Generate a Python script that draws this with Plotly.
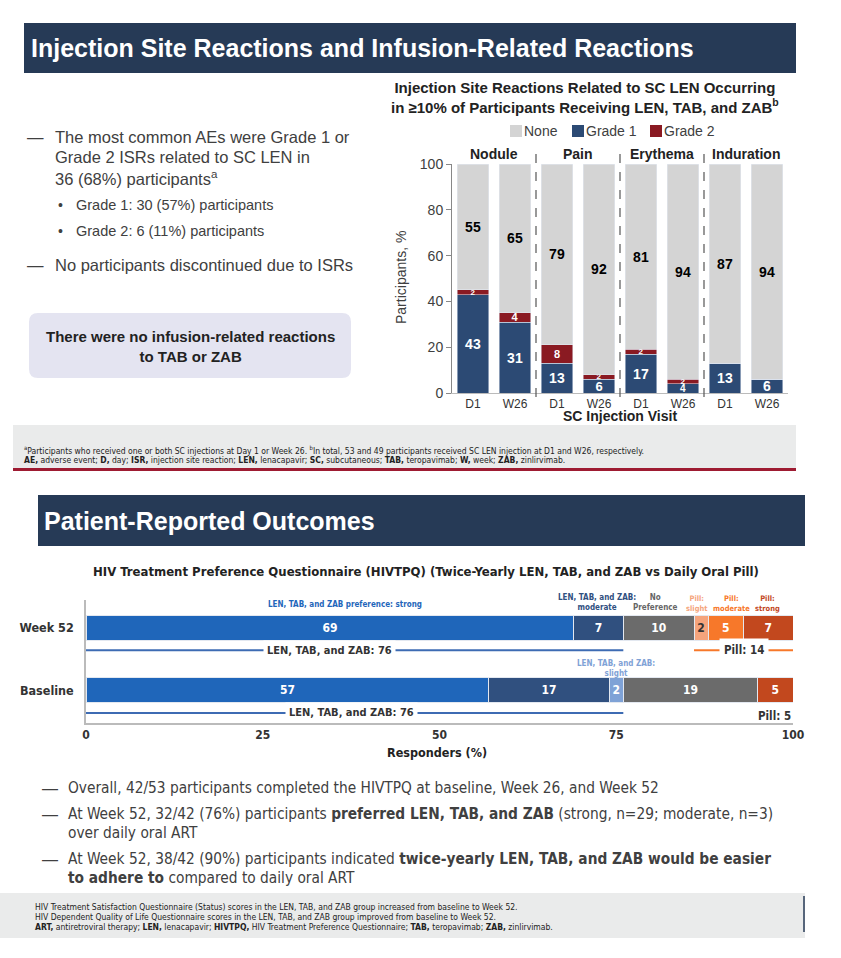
import plotly.graph_objects as go

# ── Datos ──────────────────────────────────────────────────────────────────
# Gráfico superior: ISR por tipo y visita
isr_groups = ["Nodule", "Pain", "Erythema", "Induration"]
isr_visits = ["D1", "W26", "D1", "W26", "D1", "W26", "D1", "W26"]
grade1 = [43, 31, 13, 6, 17, 4, 13, 6]
grade2 = [2, 4, 8, 2, 2, 2, 0, 0]
none_ = [55, 65, 79, 92, 81, 94, 87, 94]
y_ticks_top = [0, 20, 40, 60, 80, 100]

# Gráfico inferior: HIVTPQ (fila 0 = Baseline, fila 1 = Week 52)
pro_rows = ["Baseline", "Week 52"]
len_strong = [57, 69]
len_moderate = [17, 7]
len_slight = [2, None]
no_pref = [19, 10]
pill_slight = [None, 2]
pill_moderate = [None, 5]
pill_strong = [5, 7]
x_ticks_bottom = [0, 25, 50, 75, 100]

# ── Constantes de página ───────────────────────────────────────────────────
W, H = 841, 958
NAVY = "#263A56"
TXT = "#404040"
SANS = "Liberation Sans, Arial, sans-serif"
NARROW = "DejaVu Sans Condensed, Liberation Sans, sans-serif"


def px(x):
    return x / W


def py(y):
    return 1 - y / H


def val(v):
    return v or 0


fig = go.Figure()

# ── Barras apiladas superiores ─────────────────────────────────────────────
xs = list(range(len(isr_visits)))
g1_sizes = [14, 14, 14, 13, 14, 10, 14, 14]
g2_sizes = [8, 11, 11, 8, 8, 8, 8, 8]

fig.add_trace(go.Bar(
    x=xs, y=grade1, marker_color="#2C4A74", name="Grade 1",
    text=[f"<b>{v}</b>" for v in grade1], textposition="inside",
    insidetextanchor="middle", constraintext="none", textangle=0,
    textfont=dict(color="white", size=g1_sizes, family=SANS),
    xaxis="x", yaxis="y", showlegend=False, hoverinfo="skip",
))
fig.add_trace(go.Bar(
    x=xs, y=grade2, marker_color="#8A1A22", name="Grade 2",
    text=[f"<b>{v}</b>" if v else "" for v in grade2], textposition="inside",
    insidetextanchor="middle", constraintext="none", textangle=0,
    textfont=dict(color="white", size=g2_sizes, family=SANS),
    xaxis="x", yaxis="y", showlegend=False, hoverinfo="skip",
))
fig.add_trace(go.Bar(
    x=xs, y=none_, marker_color="#D4D4D4", name="None",
    text=[f"<b>{v}</b>" for v in none_], textposition="inside",
    insidetextanchor="middle", constraintext="none", textangle=0,
    textfont=dict(color="black", size=14, family=SANS),
    xaxis="x", yaxis="y", showlegend=False, hoverinfo="skip",
))

# ── Barras horizontales inferiores ─────────────────────────────────────────
rows_y = list(range(len(pro_rows)))
bottom_series = [
    (len_strong, "#1F66BA", "white"),
    (len_moderate, "#30507F", "white"),
    (len_slight, "#7FA2D6", "white"),
    (no_pref, "#6B6B6B", "white"),
    (pill_slight, "#F5A47C", "#333333"),
    (pill_moderate, "#F7782A", "white"),
    (pill_strong, "#C2481E", "white"),
]
for vals, color, tcolor in bottom_series:
    fig.add_trace(go.Bar(
        y=rows_y, x=[val(v) for v in vals], orientation="h", width=0.4,
        marker=dict(color=color, line=dict(color="#E3E8F0", width=1)),
        text=[f"<b>{v}</b>" if v else "" for v in vals], textposition="inside",
        insidetextanchor="middle", constraintext="none", textangle=0,
        textfont=dict(color=tcolor, size=12, family=NARROW),
        xaxis="x2", yaxis="y2", showlegend=False, hoverinfo="skip",
    ))

len_total = [val(a) + val(b) + val(c) for a, b, c in zip(len_strong, len_moderate, len_slight)]
pill_total = [val(a) + val(b) + val(c) for a, b, c in zip(pill_slight, pill_moderate, pill_strong)]

shapes = []
ann = []


def text(t, x, y, size=14, color=TXT, family=SANS, xanchor="left", yanchor="middle",
         xref="paper", yref="paper", align="left", **kw):
    ann.append(dict(text=t, x=x, y=y, xref=xref, yref=yref, showarrow=False,
                    xanchor=xanchor, yanchor=yanchor, align=align,
                    font=dict(size=size, color=color, family=family), **kw))


def rect(x0, y0, x1, y1, color, **kw):
    shapes.append(dict(type="rect", xref="paper", yref="paper", x0=px(x0), x1=px(x1),
                       y0=py(y1), y1=py(y0), fillcolor=color, line=dict(width=0),
                       layer="below", **kw))


def round_rect(x0, y0, x1, y1, r, color):
    rx, ry = r / W, r / H
    a, b, c, d = px(x0), px(x1), py(y1), py(y0)
    path = (f"M{a + rx},{c} L{b - rx},{c} Q{b},{c} {b},{c + ry} L{b},{d - ry} Q{b},{d} {b - rx},{d} "
            f"L{a + rx},{d} Q{a},{d} {a},{d - ry} L{a},{c + ry} Q{a},{c} {a + rx},{c} Z")
    shapes.append(dict(type="path", xref="paper", yref="paper", path=path,
                       fillcolor=color, line=dict(width=0), layer="below"))


# ── Encabezados y paneles ──────────────────────────────────────────────────
rect(24, 23, 796, 73, NAVY)
text("<b>Injection Site Reactions and Infusion-Related Reactions</b>", px(29), py(48),
     size=25, color="white")
rect(38, 495, 805, 546, NAVY)
text("<b>Patient-Reported Outcomes</b>", px(42), py(521), size=25, color="white")

rect(13, 425, 796, 468, "#EAEBEB")
rect(13, 468, 796, 471, "#9E1B32")
text("<sup>a</sup>Participants who received one or both SC injections at Day 1 or Week 26. "
     "<sup>b</sup>In total, 53 and 49 participants received SC LEN injection at D1 and W26, respectively.",
     px(22), py(450), size=8.5, color="#222", family=NARROW)
text("<b>AE,</b> adverse event; <b>D,</b> day; <b>ISR,</b> injection site reaction; <b>LEN,</b> lenacapavir; "
     "<b>SC,</b> subcutaneous; <b>TAB,</b> teropavimab; <b>W,</b> week; <b>ZAB,</b> zinlirvimab.",
     px(22), py(460), size=8.5, color="#222", family=NARROW)

rect(0, 893, 805, 938, "#EAEBEB")
shapes.append(dict(type="line", xref="paper", yref="paper", x0=px(804), x1=px(804),
                   y0=py(932), y1=py(896), line=dict(color=NAVY, width=1.5)))
text("HIV Treatment Satisfaction Questionnaire (Status) scores in the LEN, TAB, and ZAB group increased from baseline to Week 52.",
     px(33), py(907), size=8.5, color="#222", family=NARROW)
text("HIV Dependent Quality of Life Questionnaire scores in the LEN, TAB, and ZAB group improved from baseline to Week 52.",
     px(33), py(917), size=8.5, color="#222", family=NARROW)
text("<b>ART,</b> antiretroviral therapy; <b>LEN,</b> lenacapavir; <b>HIVTPQ,</b> HIV Treatment Preference Questionnaire; "
     "<b>TAB,</b> teropavimab; <b>ZAB,</b> zinlirvimab.",
     px(33), py(927), size=8.5, color="#222", family=NARROW)

# ── Texto izquierdo superior ───────────────────────────────────────────────
for t, y in [("—", 137), ("—", 265)]:
    text(t, px(25), py(y), size=16.5)
for t, y in [("The most common AEs were Grade 1 or", 137),
             ("Grade 2 ISRs related to SC LEN in", 157),
             ("36 (68%) participants<sup>a</sup>", 178),
             ("No participants discontinued due to ISRs", 265)]:
    text(t, px(53), py(y), size=16.5)
for t, y in [("Grade 1: 30 (57%) participants", 205), ("Grade 2: 6 (11%) participants", 231)]:
    text("•", px(56), py(y), size=14)
    text(t, px(74), py(y), size=14.5)

round_rect(29, 313, 351, 378, 9, "#E4E4F1")
text("<b>There were no infusion-related reactions<br>to TAB or ZAB</b>", px(190), py(346),
     size=15, color="#222", xanchor="center", align="center")

# ── Anotaciones del gráfico superior ───────────────────────────────────────
text("<b>Injection Site Reactions Related to SC LEN Occurring<br>"
     "in ≥10% of Participants Receiving LEN, TAB, and ZAB<sup>b</sup></b>",
     px(585), py(98), size=15, color="#222", xanchor="center", align="center")

for label, sq_x, color in [("None", 510, "#D4D4D4"), ("Grade 1", 572, "#2C4A74"), ("Grade 2", 650, "#8A1A22")]:
    rect(sq_x, 125, sq_x + 12, 137, color)
    text(label, px(sq_x + 12), py(131), size=14)

for i, g in enumerate(isr_groups):
    text(f"<b>{g}</b>", 2 * i + 0.5, py(154), size=14, color="#222",
         xanchor="center", xref="x")
for i in range(1, len(isr_groups)):
    shapes.append(dict(type="line", xref="x", yref="paper", x0=2 * i - 0.5, x1=2 * i - 0.5,
                       y0=py(397), y1=py(146), line=dict(color="#555", width=1.2, dash="dash")))

text("Participants, %", px(401), py(278), size=14, xanchor="center", textangle=-90)
text("<b>SC Injection Visit</b>", px(620), py(416), size=14, color="#222", xanchor="center")

# ── Anotaciones del gráfico inferior ───────────────────────────────────────
text("<b>HIV Treatment Preference Questionnaire (HIVTPQ) (Twice-Yearly LEN, TAB, and ZAB vs Daily Oral Pill)</b>",
     px(426), py(571), size=13, color="#222", family=NARROW, xanchor="center")

# (texto, x en datos, y en píxeles de página, color, tamaño)
cat_labels = [
    ("LEN, TAB, and ZAB preference: strong", 36.6, 604, "#1F66BA", 8),
    ("LEN, TAB, and ZAB:<br>moderate", 72.3, 602, "#30507F", 8),
    ("No<br>Preference", 80.6, 602, "#666666", 8),
    ("Pill:<br>slight", 86.4, 603, "#F5A47C", 7.5),
    ("Pill:<br>moderate", 91.3, 603, "#F7782A", 7.5),
    ("Pill:<br>strong", 96.4, 603, "#C2481E", 7.5),
    ("LEN, TAB, and ZAB:<br>slight", 75.0, 668, "#7FA2D6", 8),
]
for t, x, y, c, s in cat_labels:
    text(f"<b>{t}</b>", x, py(y), size=s, color=c, family=NARROW, xanchor="center",
         align="center", xref="x2", yref="paper")

bracket_y = [-0.36, 0.64]
for r, yb in zip(rows_y, bracket_y):
    shapes.append(dict(type="line", xref="x2", yref="y2", x0=0, x1=len_total[r], y0=yb, y1=yb,
                       line=dict(color="#3D6BB3", width=2)))
    text(f"<b>LEN, TAB, and ZAB: {len_total[r]}</b>", len_total[r] / 2 - (3.5 if r else 0.5), yb,
         size=11, color="#333", family=NARROW, xanchor="center", xref="x2", yref="y2",
         bgcolor="white", borderpad=3)
# Pill: 14 con línea; Pill: 5 sin línea
shapes.append(dict(type="line", xref="x2", yref="y2", x0=100 - pill_total[1], x1=100,
                   y0=bracket_y[1], y1=bracket_y[1], line=dict(color="#F7782A", width=2)))
text(f"<b>Pill: {pill_total[1]}</b>", 100 - pill_total[1] / 2, bracket_y[1], size=11.5, color="#333",
     family=NARROW, xanchor="center", xref="x2", yref="y2", bgcolor="white", borderpad=4)
text(f"<b>Pill: {pill_total[0]}</b>", 100, bracket_y[0] - 0.05, size=11.5, color="#333",
     family=NARROW, xanchor="right", xref="x2", yref="y2")

text("<b>Responders (%)</b>", px(437), py(752), size=12.5, color="#222", family=NARROW, xanchor="center")

# ── Texto inferior ─────────────────────────────────────────────────────────
for y in [788, 814, 859]:
    text("—", px(40), py(y), size=16)
for t, y in [("Overall, 42/53 participants completed the HIVTPQ at baseline, Week 26, and Week 52", 788),
             ("At Week 52, 32/42 (76%) participants <b>preferred LEN, TAB, and ZAB</b> (strong, n=29; moderate, n=3)", 814),
             ("over daily oral ART", 833),
             ("At Week 52, 38/42 (90%) participants indicated <b>twice-yearly LEN, TAB, and ZAB would be easier</b>", 859),
             ("<b>to adhere to</b> compared to daily oral ART", 878)]:
    text(t, px(66), py(y), size=15.3, family=NARROW)

fig.update_layout(
    width=W, height=H,
    margin=dict(l=0, r=0, t=0, b=0, autoexpand=False),
    paper_bgcolor="white", plot_bgcolor="rgba(0,0,0,0)",
    barmode="stack", bargap=0.24,
    font=dict(family=SANS, color=TXT),
    xaxis=dict(domain=[px(452), px(788)], range=[-0.5, 7.5], tickvals=xs, ticktext=isr_visits,
               tickfont=dict(size=12, color="#333"), showline=True, linecolor="#BBBBBB",
               showgrid=False, zeroline=False, ticks="", automargin=False),
    yaxis=dict(domain=[py(393), py(164)], range=[0, 100], tickvals=y_ticks_top,
               tickfont=dict(size=14, color=TXT), showline=True, linecolor="#888",
               ticks="outside", ticklen=5, tickcolor="#888", showgrid=False, zeroline=False,
               automargin=False),
    xaxis2=dict(domain=[px(86), px(793)], range=[0, 100], tickvals=x_ticks_bottom,
                ticktext=[f"<b>{v}</b>" for v in x_ticks_bottom],
                tickfont=dict(size=12, color="#333", family=NARROW), showline=True,
                linecolor="#BBBBBB", linewidth=2, ticks="", showgrid=False, zeroline=False,
                anchor="y2", automargin=False),
    yaxis2=dict(domain=[py(723), py(600)], range=[-0.52, 1.44], tickvals=rows_y,
                ticktext=[f"<b>{r}</b>" for r in pro_rows],
                tickfont=dict(size=12.5, color="#333", family=NARROW), showline=True,
                linecolor="#BBBBBB", linewidth=1.5, ticks="", showgrid=False, zeroline=False,
                anchor="x2", ticklabelstandoff=8, automargin=False),
    shapes=shapes,
    annotations=ann,
)

fig.write_html("out.html", config={"displayModeBar": False},
               post_script="document.body.style.margin='0';")
